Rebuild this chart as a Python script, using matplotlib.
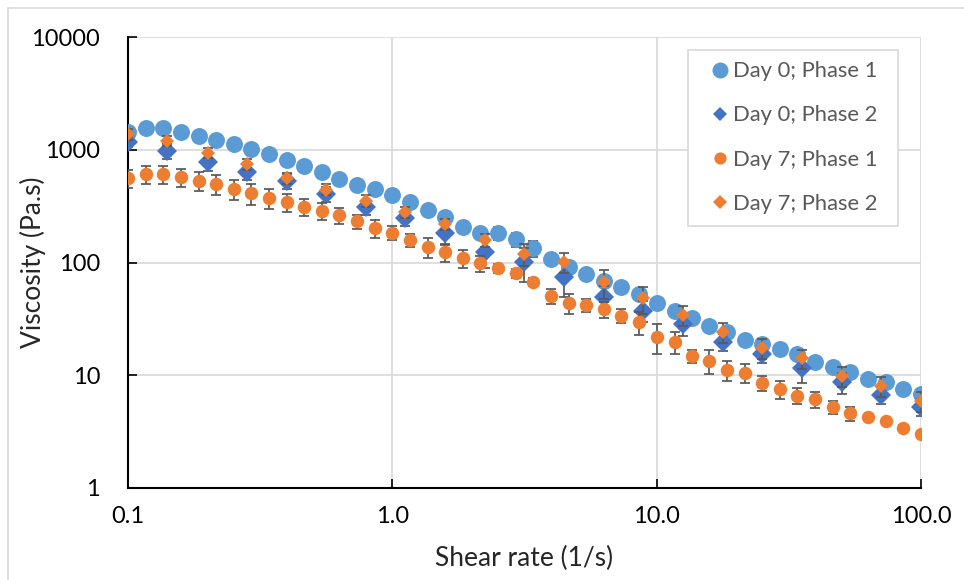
import matplotlib
matplotlib.use("Agg")
import matplotlib.pyplot as plt
from matplotlib.lines import Line2D
from matplotlib.patches import Rectangle
from matplotlib.ticker import FixedLocator, FixedFormatter, NullLocator

plt.rcParams['font.family'] = ['Lato', 'DejaVu Sans']

# Shear rates of the two sweeps (1/s)
rate_phase1 = [0.1, 0.117, 0.136, 0.158, 0.185, 0.215, 0.251, 0.293, 0.341, 0.398,
               0.464, 0.541, 0.631, 0.736, 0.858, 1.0, 1.17, 1.36, 1.58, 1.85,
               2.15, 2.51, 2.93, 3.41, 3.98, 4.64, 5.41, 6.31, 7.36, 8.58,
               10.0, 11.7, 13.6, 15.8, 18.5, 21.5, 25.1, 29.3, 34.1, 39.8,
               46.4, 54.1, 63.1, 73.6, 85.8, 100.0]
rate_phase2 = [0.1, 0.141, 0.2, 0.282, 0.398, 0.562, 0.794, 1.12, 1.58, 2.24,
               3.16, 4.47, 6.31, 8.91, 12.6, 17.8, 25.1, 35.5, 50.1, 70.8, 100.0]

# Viscosity (Pa.s) and standard deviations
day0_phase1 = [1445, 1570, 1549, 1445, 1333, 1221, 1125, 1016, 912, 811,
               722, 639, 550, 487, 446, 397, 342, 292, 252, 208,
               182, 182, 161, 134, 107, 90.7, 78.6, 68.5, 61.0, 52.2,
               44.0, 37.4, 32.4, 27.5, 24.0, 20.5, 18.8, 17.1, 15.3, 13.2,
               11.9, 10.6, 9.26, 8.77, 7.55, 6.78]
day0_phase1_sd = [150, 150, 150, 140, 130, 120, 110, 100, 90, 80,
                  70, 60, 55, 48, 44, 38, 33, 28, 24, 20,
                  18, 24, 23, 21, 10, 9, 7.5, 6.5, 6, 5,
                  4.2, 3.6, 3.1, 2.6, 2.3, 2.0, 1.8, 1.6, 1.5, 1.3,
                  1.1, 1.0, 0.9, 0.8, 0.7, 0.65]

day0_phase2 = [1179, 975, 783, 639, 531, 405, 309, 247, 182, 125,
               100.6, 74.8, 49.7, 37.4, 28.5, 19.8, 15.4, 11.5, 8.66, 6.68, 5.26]
day0_phase2_sd = [120, 155, 133, 95, 80, 60, 45, 37, 40, 35,
                  34, 25, 12, 8, 6, 3.4, 2.5, 3.0, 1.8, 1.15, 0.9]

day7_phase1 = [558, 609, 606, 570, 531, 497, 449, 411, 371, 342,
               313, 288, 264, 233, 201, 184, 158, 138, 123, 110,
               98.4, 88.9, 80.2, 67.6, 50.8, 44.0, 42.0, 38.7, 33.7, 29.5,
               21.8, 19.9, 14.8, 13.5, 11.1, 10.5, 8.59, 7.51, 6.59, 6.12,
               5.20, 4.60, 4.29, 3.93, 3.43, 3.01]
day7_phase1_sd = [102, 110, 107, 100, 100, 100, 90, 88, 74, 60,
                  56, 52, 43, 33, 36, 27, 22, 28, 22, 20,
                  16, 8, 7, 6, 7.6, 9, 5.7, 6.3, 4.8, 6.7,
                  6.5, 4.5, 2.0, 3.2, 2.2, 2.0, 1.35, 1.37, 1.07, 1.04,
                  0.67, 0.66, 0, 0, 0.2, 0]

day7_phase2 = [1371, 1203, 942, 743, 558, 444, 353, 279, 220, 158,
               118.5, 100.4, 66.7, 48.1, 34.2, 24.3, 17.3, 14.1, 9.91, 8.03, 5.95]
day7_phase2_sd = [150, 130, 100, 80, 60, 50, 40, 30, 25, 20,
                  26, 20, 19, 13, 7, 5, 3.5, 2.8, 2, 1.6, 1.2]

labels = ['Day 0; Phase 1', 'Day 0; Phase 2', 'Day 7; Phase 1', 'Day 7; Phase 2']
light_blue = '#5B9BD5'
dark_blue = '#4472C4'
orange = '#ED7D31'
err_color = '#595959'
grid_color = '#D9D9D9'

W, H = 964, 580
fig = plt.figure(figsize=(W / 100, H / 100), dpi=100)
ax = fig.add_axes([128 / W, 1 - 488 / H, 793 / W, 451 / H])

series = [
    (rate_phase1, day0_phase1, day0_phase1_sd, 'o', light_blue, 12.2),
    (rate_phase2, day0_phase2, day0_phase2_sd, 'D', dark_blue, 10.4),
    (rate_phase1, day7_phase1, day7_phase1_sd, 'o', orange, 9.7),
    (rate_phase2, day7_phase2, day7_phase2_sd, 'D', orange, 7.6),
]
for i, (x, y, sd, mk, col, ms) in enumerate(series):
    ax.errorbar(x, y, yerr=sd, fmt='none', ecolor=err_color, elinewidth=1.25,
                capsize=3.3, capthick=1.25, zorder=3 + i)
    ax.plot(x, y, linestyle='none', marker=mk, markersize=ms, color=col,
            markeredgewidth=0, zorder=3 + i)

ax.set_xscale('log')
ax.set_yscale('log')
ax.set_xlim(0.1, 100)
ax.set_ylim(1, 10000)

ax.xaxis.set_major_locator(FixedLocator([0.1, 1, 10, 100]))
ax.xaxis.set_major_formatter(FixedFormatter(['0.1', '1.0', '10.0', '100.0']))
ax.xaxis.set_minor_locator(NullLocator())
ax.yaxis.set_major_locator(FixedLocator([1, 10, 100, 1000, 10000]))
ax.yaxis.set_major_formatter(FixedFormatter(['1', '10', '100', '1000', '10000']))
ax.yaxis.set_minor_locator(NullLocator())

ax.tick_params(axis='both', direction='in', length=6.5, width=1.2, colors='black',
               labelsize=17)
ax.tick_params(axis='x', pad=13)
ax.tick_params(axis='y', pad=20)

ax.grid(True, color=grid_color, linewidth=1.2, zorder=0)
ax.set_axisbelow(True)
for side in ['top', 'right']:
    ax.spines[side].set_visible(False)
for side in ['left', 'bottom']:
    ax.spines[side].set_linewidth(1.5)
    ax.spines[side].set_color('black')

ax.set_xlabel('Shear rate (1/s)', fontsize=19, color='#262626')
ax.set_ylabel('Viscosity (Pa.s)', fontsize=19, color='#262626')
ax.xaxis.set_label_coords(0.5, (488 - 546) / 451)
ax.yaxis.set_label_coords((46 - 128) / 793, 0.5)

# legend: frame drawn separately so the inner padding can be wider at the sides
fig.add_artist(Rectangle((688 / W, 1 - 226 / H), 210 / W, 176 / H,
                         facecolor='white', edgecolor=grid_color, linewidth=1.2,
                         transform=fig.transFigure, zorder=10))
handles = [
    Line2D([], [], linestyle='none', marker='o', markersize=11.5, color=light_blue, markeredgewidth=0),
    Line2D([], [], linestyle='none', marker='D', markersize=7.6, color=dark_blue, markeredgewidth=0),
    Line2D([], [], linestyle='none', marker='o', markersize=8.8, color=orange, markeredgewidth=0),
    Line2D([], [], linestyle='none', marker='D', markersize=7.1, color=orange, markeredgewidth=0),
]
leg = fig.legend(handles, labels, loc='center left',
                 bbox_to_anchor=(713.5 / W, 1 - 137.5 / H),
                 fontsize=15.8, frameon=False, labelspacing=1.1,
                 handlelength=0.6, handletextpad=0.3, borderpad=0,
                 borderaxespad=0)
leg.set_zorder(11)
for t in leg.get_texts():
    t.set_color('#595959')

# outer chart frame
fig.add_artist(Line2D([8 / W, 8 / W], [0, 1 - 8 / H], color=grid_color, linewidth=1.2))
fig.add_artist(Line2D([8 / W, 1], [1 - 8 / H, 1 - 8 / H], color=grid_color, linewidth=1.2))

fig.savefig('out.png', dpi=100)
